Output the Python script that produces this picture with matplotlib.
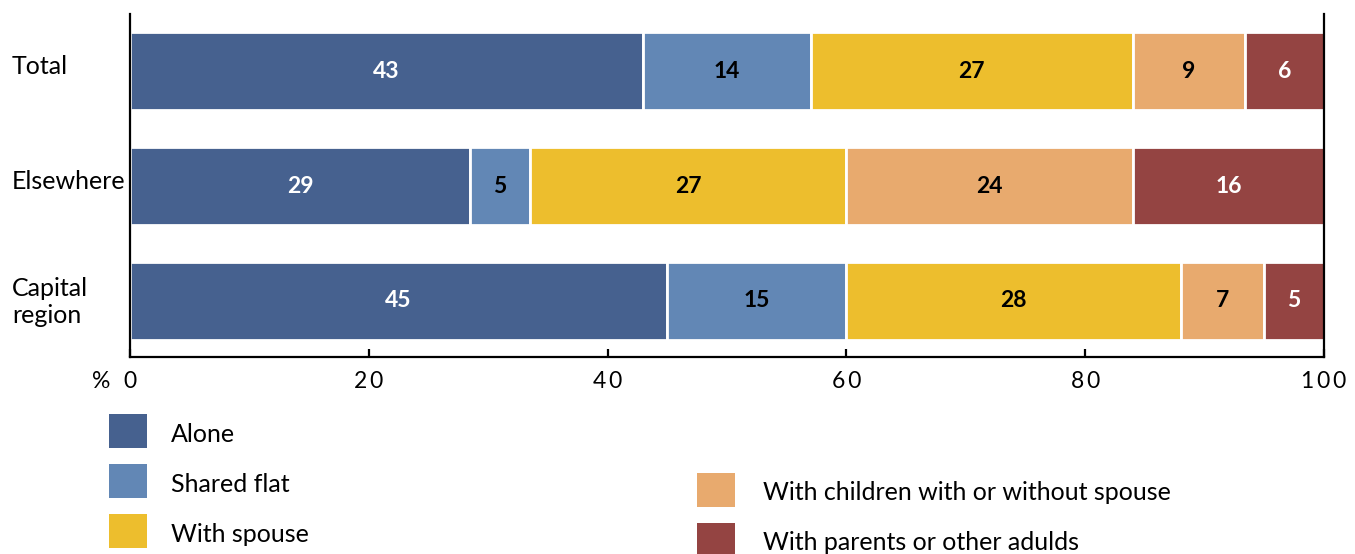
import matplotlib
matplotlib.use("Agg")
import matplotlib.pyplot as plt
from matplotlib.patches import Rectangle
from matplotlib.transforms import blended_transform_factory

plt.rcParams['font.family'] = ['Lato', 'DejaVu Sans']

# categories bottom to top
categories = ["Capital\nregion", "Elsewhere", "Total"]
series = ["Alone", "Shared flat", "With spouse",
          "With children with or without spouse", "With parents or other adulds"]
colors = ["#46618f", "#6287b5", "#edbe2d", "#e8aa6e", "#944442"]
text_colors = ["white", "black", "black", "black", "white"]

# segment widths (per category, bottom to top)
alone = [45.0, 28.5, 43.0]
shared = [15.0, 5.0, 14.0]
spouse = [28.0, 26.5, 27.0]
children = [7.0, 24.0, 9.4]
parents = [5.0, 16.0, 6.6]
# printed labels
alone_lbl = [45, 29, 43]
shared_lbl = [15, 5, 14]
spouse_lbl = [28, 27, 27]
children_lbl = [7, 24, 9]
parents_lbl = [5, 16, 6]

values = [alone, shared, spouse, children, parents]
labels = [alone_lbl, shared_lbl, spouse_lbl, children_lbl, parents_lbl]
xticks = [0, 20, 40, 60, 80, 100]

W, H = 1355, 554
fig = plt.figure(figsize=(W / 100, H / 100), dpi=100)
ax = fig.add_axes([130 / W, 1 - 357 / H, 1194 / W, 343 / H])

ypos = list(range(len(categories)))
left = [0.0] * len(categories)
for vals, lbls, col, tcol, name in zip(values, labels, colors, text_colors, series):
    ax.barh(ypos, vals, left=left, height=0.68, color=col,
            edgecolor="white", linewidth=2, label=name)
    for y, v, l, lb in zip(ypos, vals, left, lbls):
        ax.text(l + v / 2, y, str(lb), ha="center", va="center",
                fontsize=16.5, fontweight="bold", color=tcol)
    left = [a + b for a, b in zip(left, vals)]

ax.set_xlim(0, 100)
ax.set_ylim(-0.49, 2.5)
ax.spines["top"].set_visible(False)
for s in ["left", "right", "bottom"]:
    ax.spines[s].set_linewidth(1.6)
    ax.spines[s].set_color("black")

ax.set_yticks([])
ax.set_xticks(xticks)
ax.set_xticklabels(["\u2009".join(str(t)) for t in xticks], fontsize=16.5)
ax.tick_params(axis="x", direction="in", length=6, width=1.6, pad=10)

# category labels, left aligned at the figure edge
trans = blended_transform_factory(fig.transFigure, ax.transData)
for y, c in zip(ypos, categories):
    dy = 0.04 if "\n" not in c else -0.01
    ax.text(12 / W, y + dy, c, transform=trans, ha="left", va="center",
            fontsize=18, linespacing=1.2)
fig.text(92 / W, 1 - 382 / H, "%", fontsize=16.5, ha="left", va="center")

# legend: two columns of square swatches
legend_pos = [(109, 431), (109, 481), (109, 531), (697, 490), (697, 540)]
for (x, yc), col, name in zip(legend_pos, colors, series):
    fig.add_artist(Rectangle((x / W, 1 - (yc + 17) / H), 38 / W, 34 / H,
                             transform=fig.transFigure, facecolor=col,
                             edgecolor="none"))
    tx = x + 62 if x < 500 else x + 66
    fig.text(tx / W, 1 - (yc + 3) / H, name, fontsize=18,
             ha="left", va="center")

fig.savefig("out.png", dpi=100)
